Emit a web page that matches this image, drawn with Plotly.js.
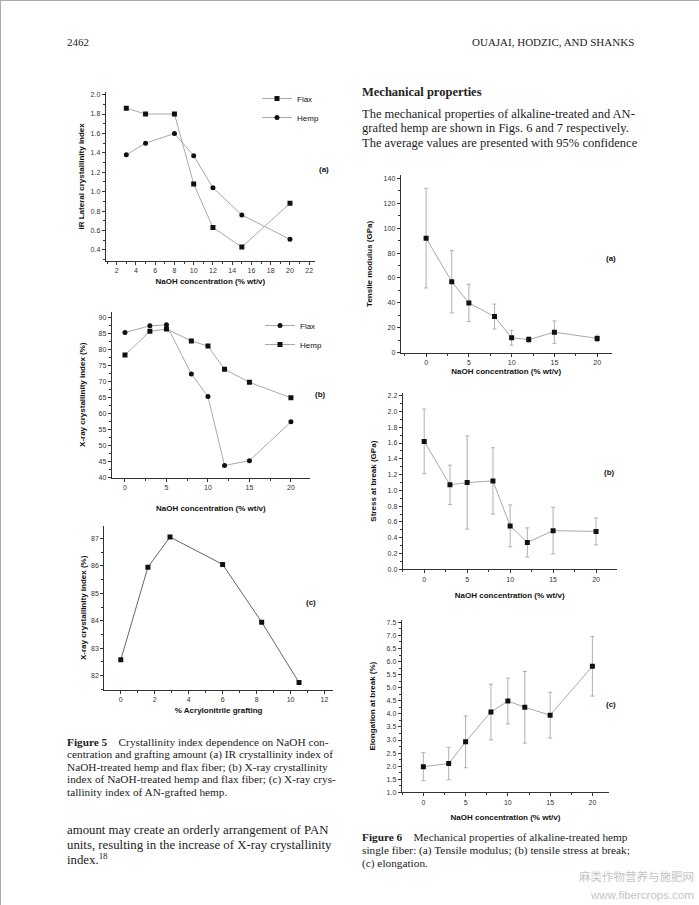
<!DOCTYPE html>
<html><head><meta charset="utf-8">
<script src="https://cdn.plot.ly/plotly-3.0.1.min.js"></script>
<style>html,body{margin:0;padding:0;background:#fff;}#chart{width:699px;height:905px;}</style>
</head><body><div id="chart"></div>
<script>
// ---------- Figure 5 data ----------
var naohIR = [3, 5, 8, 10, 12, 15, 20];
var flaxIR = [1.86, 1.80, 1.80, 1.08, 0.63, 0.43, 0.88];
var hempIR = [1.38, 1.50, 1.60, 1.37, 1.04, 0.76, 0.51];

var naohXR = [0, 3, 5, 8, 10, 12, 15, 20];
var flaxXR = [85.2, 87.3, 87.6, 72.3, 65.3, 43.8, 45.3, 57.4];
var hempXR = [78.2, 85.6, 86.3, 82.6, 81.0, 73.8, 69.7, 64.9];

var anGraft = [0, 1.6, 2.9, 6.0, 8.3, 10.5];
var anXR = [82.58, 85.95, 87.05, 86.05, 83.95, 81.75];

// ---------- Figure 6 data ----------
var naohMech = [0, 3, 5, 8, 10, 12, 15, 20];
var modulus = [92, 57, 40, 29, 12, 10.5, 16.5, 11.5];
var modulusErr = [40, 25, 15, 10, 6, 2.5, 9, 2.5];
var stress = [1.62, 1.07, 1.10, 1.12, 0.55, 0.34, 0.49, 0.48];
var stressErr = [0.41, 0.25, 0.59, 0.42, 0.265, 0.185, 0.295, 0.17];
var elong = [1.98, 2.10, 2.93, 4.07, 4.49, 4.25, 3.95, 5.82];
var elongErr = [0.535, 0.62, 0.99, 1.065, 0.875, 1.37, 0.875, 1.14];

// ---------- layout helpers ----------
var W = 699, H = 905;
function dx(a, b) { return [a / W, b / W]; }
function dy(top, bottom) { return [1 - bottom / H, 1 - top / H]; }
var tickFont = {family: 'Liberation Sans, Arial, sans-serif', size: 7, color: '#333'};
var titleFont = {family: 'Liberation Sans, Arial, sans-serif', size: 8, color: '#111'};
function ax(domain, range, dtick, minor, fmt, anchor, title, standoff) {
  var o = {
    domain: domain, range: range, anchor: anchor, dtick: dtick, tick0: 0,
    showline: true, linecolor: '#333', linewidth: 1, mirror: false,
    ticks: 'outside', ticklen: 3, tickcolor: '#333', tickwidth: 1,
    showgrid: false, zeroline: false, tickfont: tickFont, fixedrange: true,
    minor: {ticks: 'outside', ticklen: 2, dtick: minor, tick0: 0, tickcolor: '#333', showgrid: false}
  };
  if (fmt) o.tickformat = fmt;
  if (title) o.title = {text: '<b>' + title + '</b>', font: titleFont, standoff: standoff};
  return o;
}
var lineStyle = {color: '#a8a8a8', width: 1};
function mk(sym) { return {symbol: sym, size: 5, color: '#111', line: {width: 0}}; }
function errb(arr) { return {type: 'data', array: arr, visible: true, color: '#b0b0b0', thickness: 1, width: 2}; }

var traces = [
  {x: naohIR, y: flaxIR, name: 'Flax', type: 'scatter', mode: 'lines+markers', line: lineStyle, marker: mk('square'), xaxis: 'x', yaxis: 'y', legend: 'legend'},
  {x: naohIR, y: hempIR, name: 'Hemp', type: 'scatter', mode: 'lines+markers', line: lineStyle, marker: mk('circle'), xaxis: 'x', yaxis: 'y', legend: 'legend'},
  {x: naohXR, y: flaxXR, name: 'Flax', type: 'scatter', mode: 'lines+markers', line: lineStyle, marker: mk('circle'), xaxis: 'x2', yaxis: 'y2', legend: 'legend2'},
  {x: naohXR, y: hempXR, name: 'Hemp', type: 'scatter', mode: 'lines+markers', line: lineStyle, marker: mk('square'), xaxis: 'x2', yaxis: 'y2', legend: 'legend2'},
  {x: anGraft, y: anXR, name: 'AN', type: 'scatter', mode: 'lines+markers', line: {color: '#666', width: 1}, marker: mk('square'), xaxis: 'x3', yaxis: 'y3', showlegend: false},
  {x: naohMech, y: modulus, error_y: errb(modulusErr), type: 'scatter', mode: 'lines+markers', line: lineStyle, marker: mk('square'), xaxis: 'x4', yaxis: 'y4', showlegend: false},
  {x: naohMech, y: stress, error_y: errb(stressErr), type: 'scatter', mode: 'lines+markers', line: lineStyle, marker: mk('square'), xaxis: 'x5', yaxis: 'y5', showlegend: false},
  {x: naohMech, y: elong, error_y: errb(elongErr), type: 'scatter', mode: 'lines+markers', line: lineStyle, marker: mk('square'), xaxis: 'x6', yaxis: 'y6', showlegend: false}
];

var serif = 'Liberation Serif, Times New Roman, serif';
function txt(text, x, y, size, opts) {
  var a = {text: text, x: x / W, y: 1 - y / H, xref: 'paper', yref: 'paper', showarrow: false,
    xanchor: 'left', yanchor: 'middle', font: {family: serif, size: size, color: '#222'}};
  if (opts) for (var k in opts) a[k] = opts[k];
  return a;
}
var lab = {family: 'Liberation Sans, Arial, sans-serif', size: 8, color: '#111'};
var annotations = [
  txt('2462', 65, 42, 11),
  txt('OUAJAI, HODZIC, AND SHANKS', 636, 42, 11, {xanchor: 'right'}),
  txt('<b>Mechanical properties</b>', 360, 92, 12.5),
  txt('The mechanical properties of alkaline-treated and AN-', 360, 114, 12.5),
  txt('grafted hemp are shown in Figs. 6 and 7 respectively.', 360, 128.5, 12.5),
  txt('The average values are presented with 95% confidence', 360, 143, 12.5),
  txt('<b>Figure 5</b>    Crystallinity index dependence on NaOH con-', 65, 742, 11.3),
  txt('centration and grafting amount (a) IR crystallinity index of', 65, 754.5, 11.3),
  txt('NaOH-treated hemp and flax fiber; (b) X-ray crystallinity', 65, 767, 11.3),
  txt('index of NaOH-treated hemp and flax fiber; (c) X-ray crys-', 65, 779.5, 11.3),
  txt('tallinity index of AN-grafted hemp.', 65, 792, 11.3),
  txt('amount may create an orderly arrangement of PAN', 65, 830, 12.8),
  txt('units, resulting in the increase of X-ray crystallinity', 65, 844.5, 12.8),
  txt('index.<sup>18</sup>', 65, 859, 12.8),
  txt('<b>Figure 6</b>    Mechanical properties of alkaline-treated hemp', 360, 837, 11.3),
  txt('single fiber: (a) Tensile modulus; (b) tensile stress at break;', 360, 850, 11.3),
  txt('(c) elongation.', 360, 863, 11.3),
  txt('麻类作物营养与施肥网', 696, 876, 11.5, {xanchor: 'right', font: {family: 'Noto Sans CJK SC', size: 11.5, color: '#c4c4c4'}}),
  txt('www.fibercrops.com', 696, 895, 11.5, {xanchor: 'right', font: {family: 'Liberation Sans, Arial', size: 11.5, color: '#c4c4c4'}}),
  txt('<b>(a)</b>', 317, 170, 8, {font: lab}),
  txt('<b>(b)</b>', 313, 394, 8, {font: lab}),
  txt('<b>(c)</b>', 304, 602, 8, {font: lab}),
  txt('<b>(a)</b>', 604, 258, 8, {font: lab}),
  txt('<b>(b)</b>', 602, 472, 8, {font: lab}),
  txt('<b>(c)</b>', 604, 704, 8, {font: lab})
];

var legFont = {family: 'Liberation Sans, Arial, sans-serif', size: 8, color: '#111'};
var layout = {
  width: W, height: H, margin: {l: 0, r: 0, t: 0, b: 0},
  paper_bgcolor: '#fff', plot_bgcolor: 'rgba(0,0,0,0)',
  font: {family: 'Liberation Sans, Arial, sans-serif'},
  xaxis: ax(dx(105.7, 315), [0.86, 22.6], 2, 1, null, 'y', 'NaOH concentration (% wt/v)', 4),
  yaxis: ax(dy(91.7, 261), [0.286, 2.03], 0.2, 0.1, '.1f', 'x', 'IR Lateral crystallinity index', 4),
  xaxis2: ax(dx(111.7, 310), [-1.6, 22.3], 5, 2.5, null, 'y2', 'NaOH concentration (% wt/v)', 15),
  yaxis2: ax(dy(311.7, 477.7), [40, 91.7], 5, 2.5, null, 'x2', 'X-ray crystallinity index (%)', 11),
  xaxis3: ax(dx(104.3, 333), [-0.97, 12.5], 2, 1, null, 'y3', '% Acrylonitrile grafting', 4),
  yaxis3: ax(dy(525.7, 690), [81.48, 87.46], 1, 0.5, null, 'x3', 'X-ray crystallinity index (%)', 3),
  xaxis4: ax(dx(400.7, 611.7), [-2.97, 21.7], 5, 2.5, null, 'y4', 'NaOH concentration (% wt/v)', 3),
  yaxis4: ax(dy(175, 352.7), [0, 142.7], 20, 10, null, 'x4', 'Tensile modulus (GPa)', 9),
  xaxis5: ax(dx(402.7, 616.7), [-2.5, 22.4], 5, 2.5, null, 'y5', 'NaOH concentration (% wt/v)', 10),
  yaxis5: ax(dy(393, 569.3), [0, 2.234], 0.2, 0.1, '.1f', 'x5', 'Stress at break (GPa)', 9),
  xaxis6: ax(dx(401.7, 609.3), [-2.56, 22.0], 5, 2.5, null, 'y6', 'NaOH concentration (% wt/v)', 9),
  yaxis6: ax(dy(620, 792.3), [1.0, 7.59], 0.5, 0.25, '.1f', 'x6', 'Elongation at break (%)', 9),
  legend: {x: 257 / W, y: 1 - 84 / H, xanchor: 'left', yanchor: 'top', font: legFont, bgcolor: 'rgba(0,0,0,0)', itemwidth: 30, tracegroupgap: 0},
  legend2: {x: 260 / W, y: 1 - 311 / H, xanchor: 'left', yanchor: 'top', font: legFont, bgcolor: 'rgba(0,0,0,0)', itemwidth: 30, tracegroupgap: 0},
  annotations: annotations,
  shapes: [
    {type: 'line', xref: 'paper', yref: 'paper', x0: 0, x1: 1, y0: 1, y1: 1, line: {color: '#aaa', width: 2}},
    {type: 'line', xref: 'paper', yref: 'paper', x0: 0, x1: 0, y0: 0, y1: 1, line: {color: '#aaa', width: 2}}
  ]
};
Plotly.newPlot('chart', traces, layout, {staticPlot: true, displayModeBar: false});
</script></body></html>
